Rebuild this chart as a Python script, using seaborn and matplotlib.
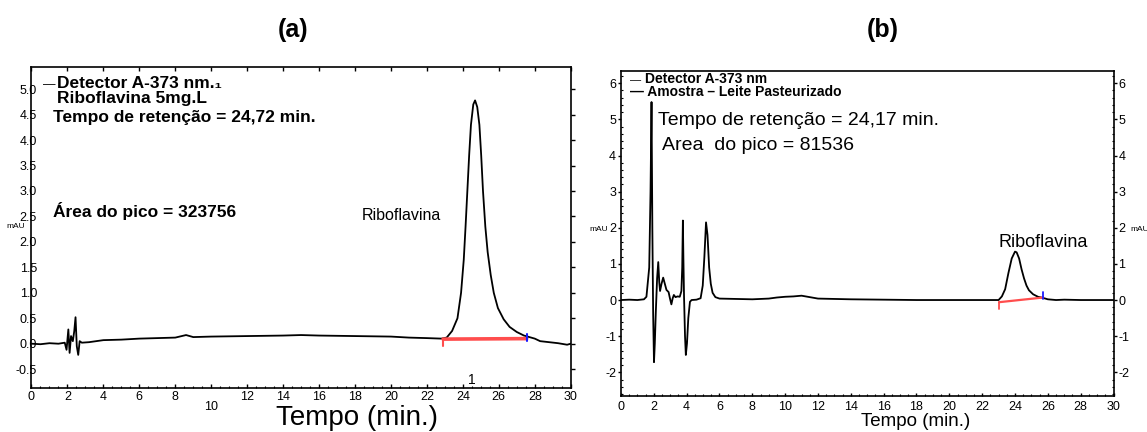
import matplotlib
matplotlib.use("Agg")
import matplotlib.pyplot as plt
import seaborn as sns
from matplotlib.ticker import MultipleLocator

# ---------------- Panel (a): standard, Riboflavina 5 mg/L ----------------
time_a = [0.0, 0.5, 1.0, 1.5, 1.85, 1.95, 2.05, 2.12, 2.2, 2.3, 2.38, 2.45, 2.52, 2.6, 2.68,
          2.8, 3.2, 4.0, 5.0, 6.0, 7.0, 8.0, 8.6, 9.0, 10.0, 12.0, 14.0, 15.0, 16.0, 18.0,
          20.0, 21.0, 22.0, 22.8, 23.1, 23.4, 23.7, 23.9, 24.05, 24.15, 24.25, 24.35, 24.45,
          24.58, 24.68, 24.8, 24.92, 25.02, 25.12, 25.25, 25.38, 25.55, 25.72, 25.95, 26.27,
          26.6, 27.0, 27.4, 27.7, 28.0, 28.3, 28.8, 29.3, 29.8, 30.0]
signal_a = [0.00, -0.01, 0.01, 0.00, 0.02, -0.12, 0.28, -0.18, 0.15, 0.05, 0.25, 0.52, -0.05,
            -0.22, 0.05, 0.02, 0.03, 0.07, 0.08, 0.10, 0.11, 0.12, 0.17, 0.13, 0.14, 0.15,
            0.16, 0.17, 0.16, 0.15, 0.14, 0.12, 0.11, 0.10, 0.12, 0.25, 0.50, 1.00, 1.65,
            2.30, 3.00, 3.70, 4.30, 4.70, 4.78, 4.65, 4.30, 3.70, 3.00, 2.30, 1.80, 1.35,
            1.00, 0.70, 0.48, 0.33, 0.23, 0.16, 0.13, 0.10, 0.05, 0.03, 0.01, -0.02, 0.00]
base_a_t = [22.9, 27.55]
base_a_v = [0.09, 0.10]
start_a_t = [22.9, 22.9]
start_a_v = [0.09, -0.04]
end_a_t = [27.55, 27.55]
end_a_v = [0.06, 0.20]

# ---------------- Panel (b): sample, Leite Pasteurizado ----------------
time_b = [0.0, 0.5, 1.0, 1.4, 1.55, 1.72, 1.8, 1.86, 1.91, 1.96, 2.01, 2.06, 2.12, 2.2, 2.27,
          2.33, 2.38, 2.47, 2.57, 2.67, 2.77, 2.9, 2.98, 3.07, 3.15, 3.22, 3.32, 3.45, 3.58,
          3.68, 3.73, 3.77, 3.8, 3.84, 3.9, 3.95, 4.02, 4.1, 4.2, 4.3, 4.6, 4.85, 4.98, 5.08,
          5.18, 5.27, 5.37, 5.47, 5.58, 5.75, 6.0, 7.0, 8.0, 9.0, 9.5, 10.0, 10.5, 11.0, 11.5,
          12.0, 13.0, 14.0, 16.0, 18.0, 20.0, 22.0, 23.0, 23.2, 23.4, 23.6, 23.8, 24.0, 24.1,
          24.25, 24.4, 24.55, 24.7, 24.85, 25.1, 25.4, 25.7, 26.0, 26.5, 27.0, 28.0, 29.0, 30.0]
signal_b = [0.00, 0.01, 0.00, 0.02, 0.09, 0.90, 3.00, 5.48, 2.00, -0.40, -1.72, -1.20, -0.35,
            0.60, 1.05, 0.50, 0.25, 0.45, 0.62, 0.45, 0.28, 0.22, 0.05, -0.12, 0.05, 0.14,
            0.08, 0.10, 0.09, 0.25, 0.90, 2.20, 1.20, 0.10, -1.00, -1.52, -1.20, -0.50, -0.05,
            0.00, 0.01, 0.05, 0.40, 1.20, 2.15, 1.80, 0.90, 0.45, 0.20, 0.08, 0.04, 0.03, 0.02,
            0.04, 0.07, 0.09, 0.10, 0.12, 0.08, 0.04, 0.03, 0.02, 0.01, 0.00, 0.00, 0.00, 0.00,
            0.10, 0.30, 0.75, 1.15, 1.34, 1.32, 1.15, 0.85, 0.60, 0.40, 0.27, 0.16, 0.09, 0.06,
            0.02, 0.00, 0.01, 0.00, 0.00, 0.00]
base_b_t = [23.03, 25.72]
base_b_v = [-0.06, 0.07]
start_b_t = [23.03, 23.03]
start_b_v = [-0.06, -0.25]
end_b_t = [25.72, 25.72]
end_b_v = [0.04, 0.22]

x_ticks = list(range(0, 31, 2))
x_labels = [str(v) for v in x_ticks]
y_ticks_a = [-0.5, 0.0, 0.5, 1.0, 1.5, 2.0, 2.5, 3.0, 3.5, 4.0, 4.5, 5.0]
y_labels_a = ["-0.5", "0.0", "0.5", "1.0", "1.5", "2.0", "2.5", "3.0", "3.5", "4.0", "4.5", "5.0"]
y_ticks_b = [-2, -1, 0, 1, 2, 3, 4, 5, 6]
y_labels_b = ["-2", "-1", "0", "1", "2", "3", "4", "5", "6"]

sns.set_theme(style="white")
plt.rcParams['font.family'] = ['Liberation Sans', 'DejaVu Sans']
plt.rcParams['text.color'] = 'black'
plt.rcParams['axes.labelcolor'] = 'black'
plt.rcParams['xtick.color'] = 'black'
plt.rcParams['ytick.color'] = 'black'

fig = plt.figure(figsize=(11.47, 4.32), dpi=100)
axA = fig.add_axes([0.02746, 0.1007, 0.4701, 0.7435])
axB = fig.add_axes([0.5414, 0.0822, 0.4294, 0.7535])

red = '#ff4d4d'
blue = '#1a1aff'

# --- traces (a)
sns.lineplot(x=time_a, y=signal_a, ax=axA, color='black', lw=1.3, estimator=None, sort=False)
sns.lineplot(x=base_a_t, y=base_a_v, ax=axA, color=red, lw=2.6, estimator=None, sort=False)
sns.lineplot(x=start_a_t, y=start_a_v, ax=axA, color=red, lw=1.5, estimator=None, sort=False)
sns.lineplot(x=end_a_t, y=end_a_v, ax=axA, color=blue, lw=1.5, estimator=None, sort=False)

# --- traces (b)
sns.lineplot(x=time_b, y=signal_b, ax=axB, color='black', lw=1.3, estimator=None, sort=False)
sns.lineplot(x=base_b_t, y=base_b_v, ax=axB, color=red, lw=1.6, estimator=None, sort=False)
sns.lineplot(x=start_b_t, y=start_b_v, ax=axB, color=red, lw=1.3, estimator=None, sort=False)
sns.lineplot(x=end_b_t, y=end_b_v, ax=axB, color=blue, lw=1.3, estimator=None, sort=False)

for ax in (axA, axB):
    for s in ax.spines.values():
        s.set_visible(True)
        s.set_color('black')
        s.set_linewidth(1.2)
    ax.set_xlim(0, 30)
    ax.set_xlabel('')
    ax.set_ylabel('')
    ax.set_xticks(x_ticks)
    ax.set_xticklabels(x_labels)
    ax.xaxis.set_minor_locator(MultipleLocator(0.5))

# --- axes (a)
axA.set_ylim(-0.88, 5.43)
axA.set_yticks(y_ticks_a)
axA.set_yticklabels(y_labels_a)
axA.tick_params(axis='x', which='major', direction='in', length=3, width=1, pad=1.5,
                labelsize=9, bottom=True, top=True, colors='black')
axA.tick_params(axis='x', which='minor', direction='in', length=1.5, width=0.8,
                bottom=True, top=False)
axA.tick_params(axis='y', which='major', direction='out', length=3, width=1, pad=-7,
                labelsize=9, left=False, right=True, labelleft=True, labelright=False,
                colors='black')
axA.xaxis.get_major_ticks()[5].set_pad(9)

# --- axes (b)
axB.set_ylim(-2.67, 6.34)
axB.set_yticks(y_ticks_b)
axB.set_yticklabels(y_labels_b)
axB.yaxis.set_minor_locator(MultipleLocator(0.2))
axB.tick_params(axis='x', which='major', direction='in', length=2.5, width=1, pad=3,
                labelsize=9, bottom=True, top=False, colors='black')
axB.tick_params(axis='x', which='minor', direction='in', length=1.5, width=0.8,
                bottom=True, top=False)
axB.tick_params(axis='y', which='major', direction='out', length=2.5, width=1, pad=1,
                labelsize=9, left=True, right=True, labelleft=True, labelright=True,
                colors='black')
axB.tick_params(axis='y', which='minor', direction='in', length=1.5, width=0.8,
                left=True, right=True)

# --- annotations (a)
bold = dict(fontweight='bold', fontsize=12.5, color='black')
axA.text(0.62, 5.03, "—", fontsize=9, va='baseline', ha='left')
axA.text(1.40, 5.03, "Detector A-373 nm.\u2081", va='baseline', ha='left', **bold)
axA.text(1.40, 4.72, "Riboflavina 5mg.L", va='baseline', ha='left', **bold)
axA.text(1.21, 4.36, "Tempo de retenção = 24,72 min.", va='baseline', ha='left', **bold)
axA.text(1.21, 2.48, "Área do pico = 323756", va='baseline', ha='left', **bold)
axA.text(20.6, 2.44, "Riboflavina", va='baseline', ha='center', fontsize=11.5)
axA.text(24.5, -0.80, "1", va='baseline', ha='center', fontsize=10)
axA.text(-0.03, 2.30, "mAU", transform=axA.get_yaxis_transform(), fontsize=6,
         ha='center', va='center')

# --- annotations (b)
axB.text(0.55, 6.0, "—", fontsize=8, va='baseline', ha='left')
axB.text(1.46, 6.0, "Detector A-373 nm", va='baseline', ha='left', fontsize=10,
         fontweight='bold')
axB.text(0.55, 5.66, "— Amostra – Leite Pasteurizado", va='baseline', ha='left',
         fontsize=10, fontweight='bold')
axB.text(2.27, 4.85, "Tempo de retenção = 24,17 min.", va='baseline', ha='left', fontsize=14)
axB.text(2.48, 4.15, "Area  do pico = 81536", va='baseline', ha='left', fontsize=14)
axB.text(25.7, 1.48, "Riboflavina", va='baseline', ha='center', fontsize=13)
axB.text(-0.027, 1.94, "mAU", transform=axB.get_yaxis_transform(), fontsize=6,
         ha='right', va='center')
axB.text(1.034, 1.94, "mAU", transform=axB.get_yaxis_transform(), fontsize=6,
         ha='left', va='center')

# --- axis titles and panel labels
fig.text(357 / 1147, 1 - 418 / 432, "Tempo (min.)", ha='center', va='center', fontsize=20)
fig.text(916 / 1147, 1 - 421 / 432, "Tempo (min.)", ha='center', va='center', fontsize=13.5)
fig.text(293 / 1147, 1 - 30 / 432, "(a)", ha='center', va='center', fontsize=18,
         fontweight='bold')
fig.text(883 / 1147, 1 - 30 / 432, "(b)", ha='center', va='center', fontsize=18,
         fontweight='bold')

fig.savefig("out.png", dpi=100, facecolor='white')
